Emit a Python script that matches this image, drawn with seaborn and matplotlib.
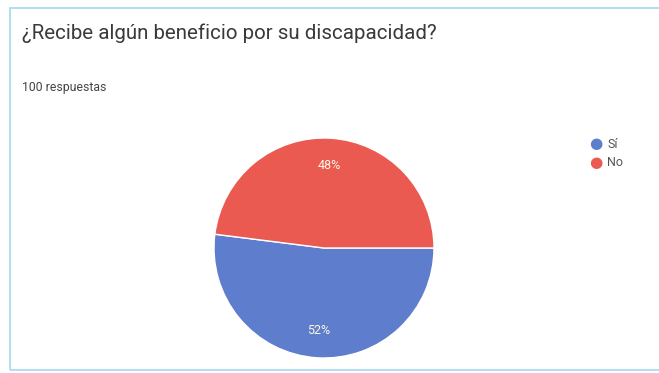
import matplotlib
matplotlib.use('Agg')
import matplotlib.pyplot as plt
import seaborn as sns
from matplotlib.patches import Rectangle

# Data
labels = ['Sí', 'No']
values = [52, 48]
colors = ['#5f7dcd', '#eb5a50']

title = '¿Recibe algún beneficio por su discapacidad?'
subtitle = '100 respuestas'

sns.set_theme(style='white')
plt.rcParams['font.family'] = ['Roboto', 'DejaVu Sans']

W, H = 659, 373
fig = plt.figure(figsize=(W / 100, H / 100), dpi=100)
fig.patch.set_facecolor('white')

# card border (light blue, right side runs off the picture)
fig.add_artist(Rectangle((10 / W, 3 / H), 1.0, (H - 11) / H, transform=fig.transFigure,
                         fill=False, edgecolor='#a9dcf0', linewidth=1.3))

fig.text(22 / W, 1 - 33 / H, title, fontsize=14.8, color='#3a3a3a', va='center', ha='left')
fig.text(22 / W, 1 - 87 / H, subtitle, fontsize=8.8, color='#444444', va='center', ha='left')

# pie: centre (324, 248) px, radius 110 px
cx, cy, r = 324, 248, 110
ax = fig.add_axes([(cx - r) / W, (H - cy - r) / H, 2 * r / W, 2 * r / H])
wedges, texts, autotexts = ax.pie(values, colors=colors, startangle=0, counterclock=False,
                                  autopct='%1.0f%%', pctdistance=0.75,
                                  wedgeprops=dict(edgecolor='white', linewidth=1))
for t in autotexts:
    t.set_color('#fff8e8')
    t.set_fontsize(9)
ax.set_xlim(-1, 1)
ax.set_ylim(-1, 1)
ax.set_aspect('equal')
ax.axis('off')

# legend
for i, (lab, col) in enumerate(zip(labels, colors)):
    y = 1 - (144 + 18 * i) / H
    fig.text(596 / W, y, '●', color=col, fontsize=11, va='center', ha='center',
             family=['DejaVu Sans'])
    fig.text(607 / W, y, lab, color='#555555', fontsize=9, va='center', ha='left')

fig.savefig('out.png', dpi=100)
